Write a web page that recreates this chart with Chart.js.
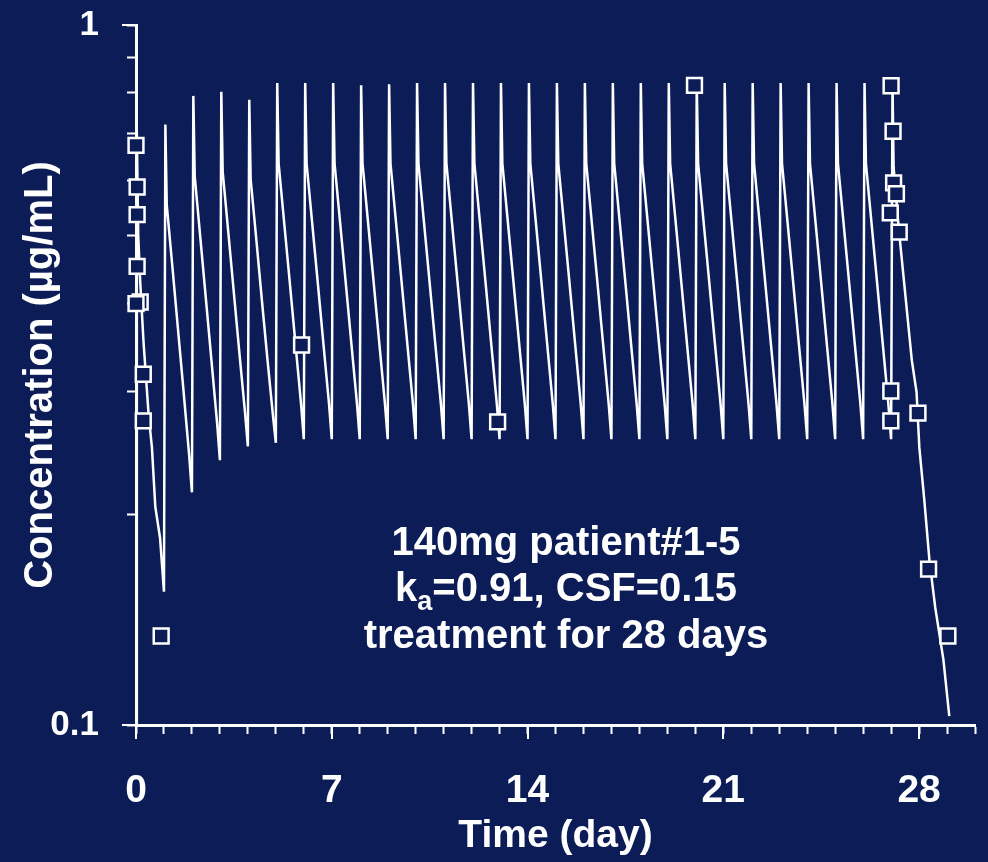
<!DOCTYPE html>
<html>
<head>
<meta charset="utf-8">
<script src="https://cdn.jsdelivr.net/npm/chart.js@4.4.1/dist/chart.umd.min.js"></script>
<style>
    html, body { margin: 0; padding: 0; background: #0b1c57; }
    #wrap { width: 988px; height: 862px; }
</style>
</head>
<body>
<div id="wrap"><canvas id="pkChart" width="988" height="862"></canvas></div>
<script>
// model curve, one row per dosing day (day, µg/mL)
const modelTime = [
    0, 0.03, 0.08, 0.15, 0.27, 0.45, 0.57, 0.69, 0.86,
    1, 1.05, 1.1, 1.3, 1.5, 1.7, 1.9,
    2, 2.05, 2.1, 2.3, 2.5, 2.7, 2.9,
    3, 3.05, 3.1, 3.3, 3.5, 3.7, 3.9,
    4, 4.05, 4.1, 4.3, 4.5, 4.7, 4.9,
    5, 5.05, 5.1, 5.3, 5.5, 5.7, 5.9,
    6, 6.05, 6.1, 6.3, 6.5, 6.7, 6.9,
    7, 7.05, 7.1, 7.3, 7.5, 7.7, 7.9,
    8, 8.05, 8.1, 8.3, 8.5, 8.7, 8.9,
    9, 9.05, 9.1, 9.3, 9.5, 9.7, 9.9,
    10, 10.05, 10.1, 10.3, 10.5, 10.7, 10.9,
    11, 11.05, 11.1, 11.3, 11.5, 11.7, 11.9,
    12, 12.05, 12.1, 12.3, 12.5, 12.7, 12.9,
    13, 13.05, 13.1, 13.3, 13.5, 13.7, 13.9,
    14, 14.05, 14.1, 14.3, 14.5, 14.7, 14.9,
    15, 15.05, 15.1, 15.3, 15.5, 15.7, 15.9,
    16, 16.05, 16.1, 16.3, 16.5, 16.7, 16.9,
    17, 17.05, 17.1, 17.3, 17.5, 17.7, 17.9,
    18, 18.05, 18.1, 18.3, 18.5, 18.7, 18.9,
    19, 19.05, 19.1, 19.3, 19.5, 19.7, 19.9,
    20, 20.05, 20.1, 20.3, 20.5, 20.7, 20.9,
    21, 21.05, 21.1, 21.3, 21.5, 21.7, 21.9,
    22, 22.05, 22.1, 22.3, 22.5, 22.7, 22.9,
    23, 23.05, 23.1, 23.3, 23.5, 23.7, 23.9,
    24, 24.05, 24.1, 24.3, 24.5, 24.7, 24.9,
    25, 25.05, 25.1, 25.3, 25.5, 25.7, 25.9,
    26, 26.05, 26.1, 26.3, 26.5, 26.7, 26.9,
    27, 27.05, 27.09, 27.27, 27.74, 27.91, 28.01, 28.19, 28.37, 28.58, 28.87, 29.08
];
const modelConc = [
    0.05, 0.70, 0.50, 0.43, 0.352, 0.278, 0.249, 0.205, 0.185,
    0.155, 0.721, 0.553, 0.452, 0.368, 0.300, 0.243,
    0.215, 0.792, 0.608, 0.497, 0.406, 0.331, 0.270,
    0.239, 0.803, 0.617, 0.506, 0.414, 0.339, 0.279,
    0.250, 0.782, 0.602, 0.495, 0.405, 0.333, 0.276,
    0.253, 0.826, 0.634, 0.521, 0.428, 0.351, 0.288,
    0.256, 0.826, 0.634, 0.521, 0.428, 0.351, 0.288,
    0.256, 0.826, 0.634, 0.521, 0.428, 0.351, 0.288,
    0.256, 0.820, 0.634, 0.521, 0.428, 0.351, 0.288,
    0.256, 0.823, 0.634, 0.521, 0.428, 0.351, 0.288,
    0.256, 0.826, 0.634, 0.521, 0.428, 0.351, 0.288,
    0.256, 0.826, 0.634, 0.521, 0.428, 0.351, 0.288,
    0.256, 0.826, 0.634, 0.521, 0.428, 0.351, 0.288,
    0.256, 0.826, 0.634, 0.521, 0.428, 0.351, 0.288,
    0.256, 0.826, 0.634, 0.521, 0.428, 0.351, 0.288,
    0.256, 0.826, 0.634, 0.521, 0.428, 0.351, 0.288,
    0.256, 0.826, 0.634, 0.521, 0.428, 0.351, 0.288,
    0.256, 0.826, 0.634, 0.521, 0.428, 0.351, 0.288,
    0.256, 0.826, 0.634, 0.521, 0.428, 0.351, 0.288,
    0.256, 0.826, 0.634, 0.521, 0.428, 0.351, 0.288,
    0.256, 0.826, 0.634, 0.521, 0.428, 0.351, 0.288,
    0.256, 0.826, 0.634, 0.521, 0.428, 0.351, 0.288,
    0.256, 0.826, 0.634, 0.521, 0.428, 0.351, 0.288,
    0.256, 0.826, 0.634, 0.521, 0.428, 0.351, 0.288,
    0.256, 0.826, 0.634, 0.521, 0.428, 0.351, 0.288,
    0.256, 0.826, 0.634, 0.521, 0.428, 0.351, 0.288,
    0.256, 0.826, 0.634, 0.521, 0.428, 0.351, 0.288,
    0.256, 0.826, 0.626, 0.514, 0.332, 0.299, 0.249, 0.209, 0.172, 0.147, 0.124, 0.103
];

// observed concentrations (open squares)
const obsTime = [0, 0.04, 0.04, 0.04, 0.15, 0, 0.26, 0.26, 0.9, 5.92, 12.93, 19.97,
    27.0, 27.07, 27.09, 27.19, 26.97, 27.29, 26.99, 26.99, 27.96, 28.34, 29.03];
const obsConc = [0.673, 0.587, 0.536, 0.452, 0.402, 0.400, 0.317, 0.272, 0.134, 0.349, 0.271, 0.820,
    0.819, 0.705, 0.595, 0.574, 0.539, 0.506, 0.300, 0.272, 0.279, 0.167, 0.134];

const dayTicks = Array.from({ length: 31 }, (_, i) => i);
const xMajorTicks = [0, 7, 14, 21, 28];
const concTicks = [0.1, 0.2, 0.3, 0.4, 0.5, 0.6, 0.7, 0.8, 0.9, 1];
const yMajorTicks = [0.1, 1];

const noteLine1 = '140mg patient#1-5';
const noteLine2 = ['k', 'a', '=0.91, CSF=0.15'];
const noteLine3 = 'treatment for 28 days';

const BG = '#0b1c57';
const FONT = '"Liberation Sans", Arial, sans-serif';

const extrasPlugin = {
    id: 'extras',
    afterDraw(chart) {
        const { ctx, chartArea, scales } = chart;
        ctx.save();
        // longer major ticks
        ctx.strokeStyle = '#fff';
        ctx.lineWidth = 2;
        xMajorTicks.forEach(v => {
            const x = Math.round(scales.x.getPixelForValue(v));
            ctx.beginPath();
            ctx.moveTo(x, chartArea.bottom);
            ctx.lineTo(x, chartArea.bottom + 14);
            ctx.stroke();
        });
        yMajorTicks.forEach(v => {
            const y = Math.round(scales.y.getPixelForValue(v));
            ctx.beginPath();
            ctx.moveTo(chartArea.left - 14, y);
            ctx.lineTo(chartArea.left, y);
            ctx.stroke();
        });

        // note text
        const cx = 566;
        const big = 'bold 40px ' + FONT;
        const small = 'bold 27px ' + FONT;
        ctx.fillStyle = '#fff';
        ctx.textBaseline = 'alphabetic';
        ctx.font = big;
        ctx.textAlign = 'center';
        ctx.fillText(noteLine1, cx, 555);
        ctx.fillText(noteLine3, cx, 648);

        ctx.textAlign = 'left';
        const wk = ctx.measureText(noteLine2[0]).width;
        const wr = ctx.measureText(noteLine2[2]).width;
        ctx.font = small;
        const wa = ctx.measureText(noteLine2[1]).width;
        const x0 = cx - (wk + wa + wr) / 2;
        ctx.font = big;
        ctx.fillText(noteLine2[0], x0, 601);
        ctx.font = small;
        ctx.fillText(noteLine2[1], x0 + wk, 610);
        ctx.font = big;
        ctx.fillText(noteLine2[2], x0 + wk + wa, 601);
        ctx.restore();
    }
};

const ctx = document.getElementById('pkChart').getContext('2d');
new Chart(ctx, {
    type: 'line',
    data: {
        datasets: [{
            type: 'scatter',
            label: 'observed',
            data: obsTime.map((t, i) => ({ x: t, y: obsConc[i] })),
            pointStyle: 'rect',
            pointRadius: 10.5,
            pointHoverRadius: 10.5,
            pointBackgroundColor: BG,
            pointBorderColor: '#fff',
            pointBorderWidth: 2.5,
            showLine: false,
            clip: false,
            order: 0
        }, {
            label: 'model',
            data: modelTime.map((t, i) => ({ x: t, y: modelConc[i] })),
            borderColor: '#fff',
            borderWidth: 2.5,
            pointRadius: 0,
            tension: 0,
            fill: false,
            order: 1
        }]
    },
    options: {
        responsive: false,
        animation: false,
        layout: { padding: { top: 25, right: 9, left: 0, bottom: 0 } },
        plugins: {
            legend: { display: false },
            tooltip: { enabled: false }
        },
        scales: {
            x: {
                type: 'linear',
                min: 0,
                max: 30,
                border: { color: '#fff', width: 3 },
                grid: { drawOnChartArea: false, color: '#fff', tickColor: '#fff', tickLength: 9, tickWidth: 2 },
                afterBuildTicks: scale => { scale.ticks = dayTicks.map(v => ({ value: v })); },
                afterFit: scale => {
                    scale.height = 137;
                    scale.paddingLeft = 0;
                    scale.paddingRight = 0;
                },
                ticks: {
                    autoSkip: false,
                    maxRotation: 0,
                    padding: 34,
                    color: '#fff',
                    font: { family: FONT, size: 39, weight: 'bold' },
                    callback: v => xMajorTicks.includes(v) ? String(v) : ''
                },
                title: {
                    display: true,
                    text: 'Time (day)',
                    color: '#fff',
                    font: { family: FONT, size: 39, weight: 'bold' },
                    padding: { top: 0, bottom: 2 }
                }
            },
            y: {
                type: 'logarithmic',
                min: 0.1,
                max: 1,
                border: { color: '#fff', width: 3 },
                grid: { drawOnChartArea: false, color: '#fff', tickColor: '#fff', tickLength: 9, tickWidth: 2 },
                afterBuildTicks: scale => { scale.ticks = concTicks.map(v => ({ value: v })); },
                afterFit: scale => {
                    scale.width = 136;
                    scale.paddingTop = 0;
                    scale.paddingBottom = 0;
                },
                ticks: {
                    autoSkip: false,
                    padding: 28,
                    color: '#fff',
                    font: { family: FONT, size: 35, weight: 'bold' },
                    callback: v => yMajorTicks.includes(v) ? String(v) : ''
                },
                title: {
                    display: true,
                    text: 'Concentration (µg/mL)',
                    color: '#fff',
                    font: { family: FONT, size: 40, weight: 'bold' },
                    padding: { top: 17, bottom: 0 }
                }
            }
        }
    },
    plugins: [extrasPlugin]
});
</script>
</body>
</html>
